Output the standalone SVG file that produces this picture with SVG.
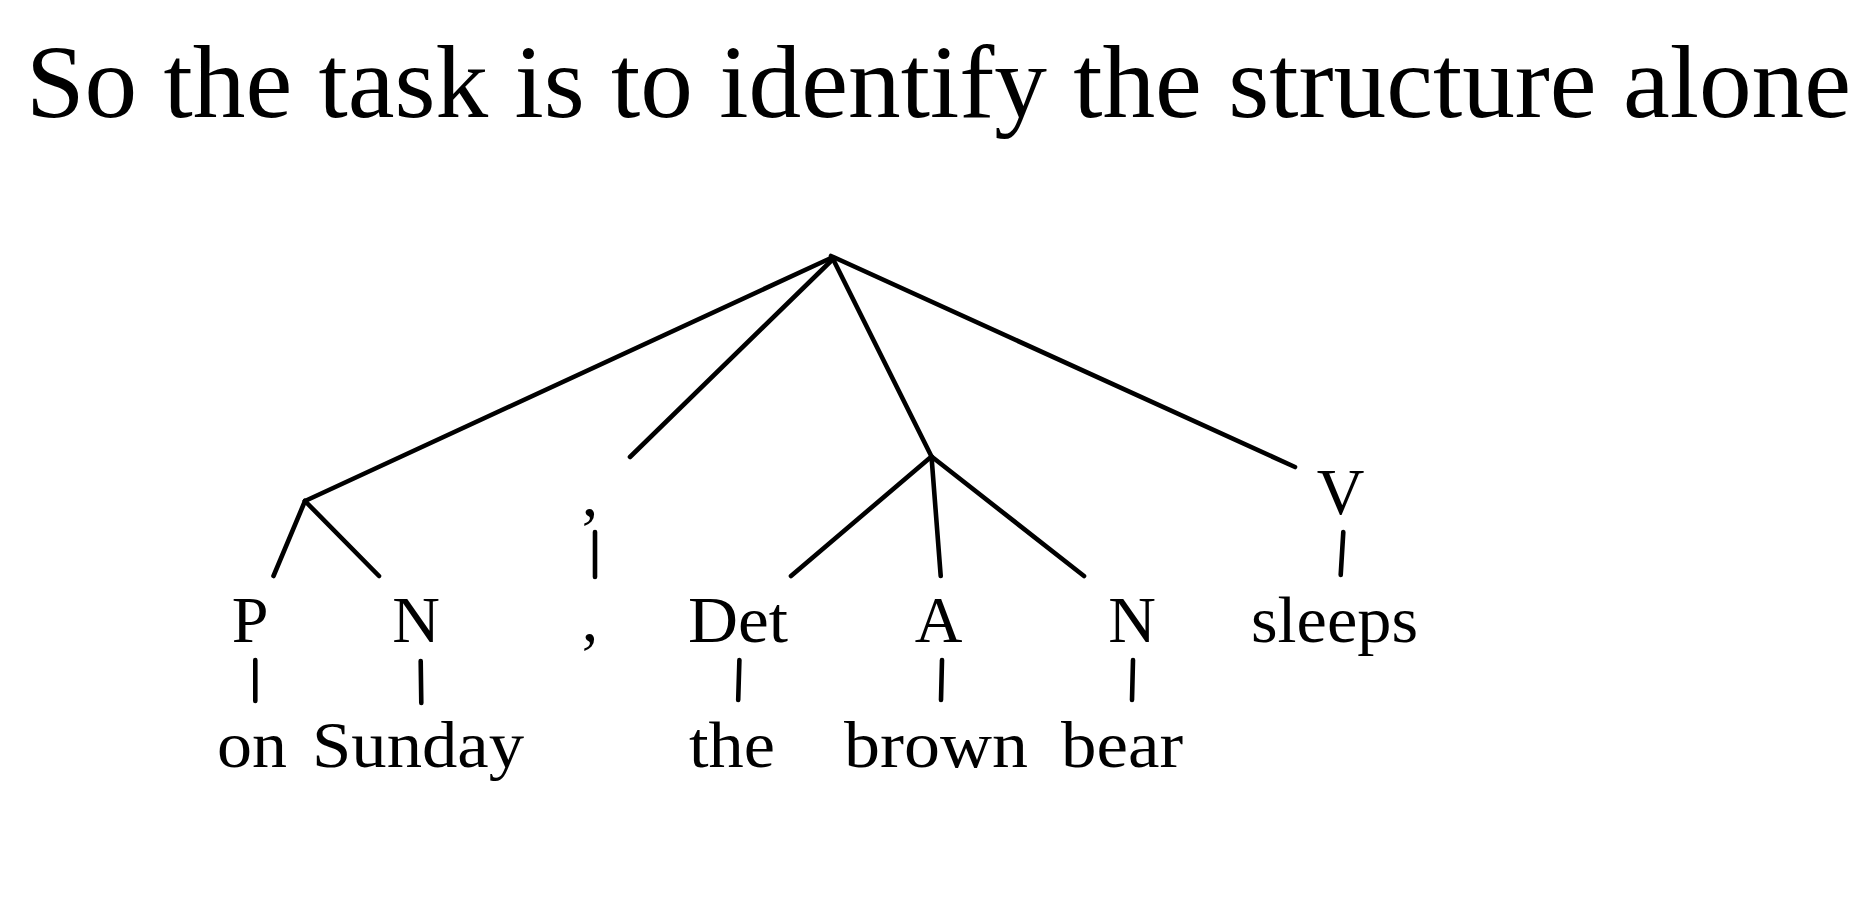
<svg xmlns="http://www.w3.org/2000/svg" width="1870" height="910" viewBox="0 0 1870 910">
<style>
  text { font-family: "Liberation Serif", "Times New Roman", serif; fill: #000; }
  .title { font-size: 104px; }
  .lbl { font-size: 66px; }
  .mid { text-anchor: middle; }
  .edge { stroke: #000; stroke-width: 4.6; stroke-linecap: round; fill: none; }
</style>
<rect width="1870" height="910" fill="#fff"/>
<text id="title" class="title" x="26" y="117" textLength="1825" lengthAdjust="spacingAndGlyphs">So the task is to identify the structure alone</text>

<g id="connectors">
  <line class="edge" x1="831" y1="258" x2="305" y2="501"/>
  <line class="edge" x1="832" y1="260" x2="630" y2="457"/>
  <line class="edge" x1="833" y1="259" x2="931.5" y2="456.5"/>
  <line class="edge" x1="831" y1="256" x2="1295" y2="467"/>
  <line class="edge" x1="305" y1="501" x2="273.5" y2="576"/>
  <line class="edge" x1="305" y1="501" x2="379" y2="576"/>
  <line class="edge" x1="931.5" y1="456.5" x2="791" y2="576"/>
  <line class="edge" x1="931.5" y1="456.5" x2="940.7" y2="576"/>
  <line class="edge" x1="931.5" y1="456.5" x2="1084" y2="576"/>
  <line class="edge" x1="595" y1="532" x2="595" y2="577"/>
  <line class="edge" x1="1343.3" y1="532" x2="1340.7" y2="575"/>
  <line class="edge" x1="255.3" y1="660" x2="255.3" y2="701"/>
  <line class="edge" x1="420.7" y1="661" x2="421.3" y2="703"/>
  <line class="edge" x1="739.4" y1="660" x2="738.2" y2="700"/>
  <line class="edge" x1="942" y1="660" x2="941" y2="700"/>
  <line class="edge" x1="1133" y1="660" x2="1132" y2="700"/>
</g>

<g id="node-root"></g>
<g id="node-pp"></g>
<g id="node-np"></g>
<g id="node-P"><text class="lbl mid" x="250" y="642">P</text></g>
<g id="node-N1"><text class="lbl mid" x="416" y="642">N</text></g>
<g id="node-comma"><text class="lbl mid" x="590" y="516">,</text></g>
<g id="node-V"><text class="lbl mid" x="1340.5" y="514">V</text></g>
<g id="node-Det"><text class="lbl" x="688" y="642" textLength="100" lengthAdjust="spacingAndGlyphs">Det</text></g>
<g id="node-A"><text class="lbl mid" x="938.5" y="642">A</text></g>
<g id="node-N2"><text class="lbl mid" x="1132" y="642">N</text></g>
<g id="leaf-sleeps"><text class="lbl" x="1251" y="642" textLength="167" lengthAdjust="spacingAndGlyphs">sleeps</text></g>
<g id="leaf-comma"><text class="lbl mid" x="590" y="641">,</text></g>
<g id="leaf-on"><text class="lbl" x="217" y="767" textLength="70" lengthAdjust="spacingAndGlyphs">on</text></g>
<g id="leaf-Sunday"><text class="lbl" x="312" y="767" textLength="212" lengthAdjust="spacingAndGlyphs">Sunday</text></g>
<g id="leaf-the"><text class="lbl" x="689" y="767" textLength="86" lengthAdjust="spacingAndGlyphs">the</text></g>
<g id="leaf-brown"><text class="lbl" x="844" y="767" textLength="184" lengthAdjust="spacingAndGlyphs">brown</text></g>
<g id="leaf-bear"><text class="lbl" x="1061" y="767" textLength="122" lengthAdjust="spacingAndGlyphs">bear</text></g>
</svg>
